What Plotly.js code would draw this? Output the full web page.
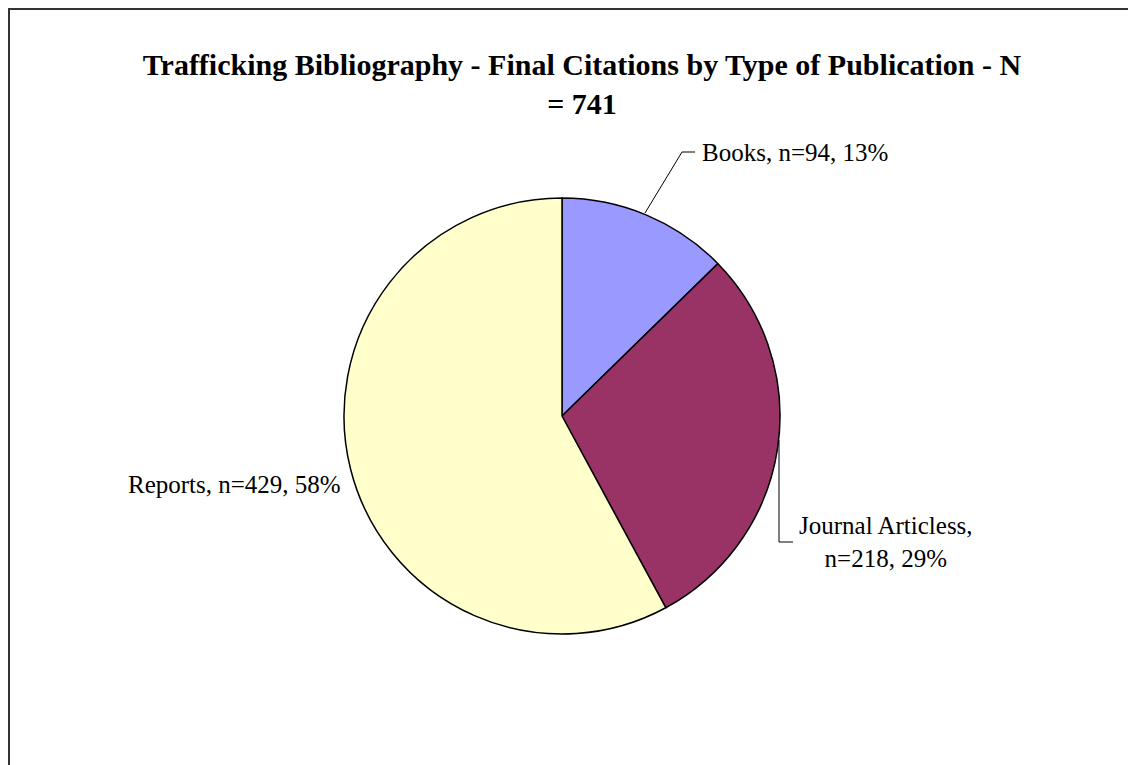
<!DOCTYPE html>
<html>
<head>
<meta charset="utf-8">
<script src="https://cdn.plot.ly/plotly-3.0.1.min.js"></script>
<style>
html,body{margin:0;padding:0;background:#fff;}
#chart{width:1128px;height:765px;}
</style>
</head>
<body>
<div id="chart"></div>
<script>
// Data
var categories = ["Books", "Journal Articless", "Reports"];
var counts = [94, 218, 429];
var percents = ["13%", "29%", "58%"];
var colors = ["#9999FF", "#993366", "#FFFFCC"];
var titleText = "Trafficking Bibliography - Final Citations by Type of Publication - N<br>= 741";

var W = 1128, H = 765;
function px(x){ return x / W; }
function py(y){ return 1 - y / H; }

var serif = "Liberation Serif, Times New Roman, serif";

var trace = {
  type: "pie",
  labels: categories,
  values: counts,
  sort: false,
  direction: "clockwise",
  rotation: 0,
  textinfo: "none",
  hoverinfo: "label+value+percent",
  marker: {colors: colors, line: {color: "#000000", width: 1.5}},
  domain: {x: [px(344), px(780)], y: [py(634), py(198)]},
  showlegend: false
};

function lbl(i){ return categories[i] + ", n=" + counts[i] + ", " + percents[i]; }

var annotations = [
  {text: lbl(0), x: px(700), y: py(153), xref: "paper", yref: "paper",
   xanchor: "left", yanchor: "middle", showarrow: false,
   font: {family: serif, size: 25, color: "#000"}},
  {text: categories[1] + ",<br>n=" + counts[1] + ", " + percents[1], x: px(886), y: py(542), xref: "paper", yref: "paper",
   xanchor: "center", yanchor: "middle", align: "center", showarrow: false,
   font: {family: serif, size: 25, color: "#000"}},
  {text: lbl(2), x: px(343), y: py(484), xref: "paper", yref: "paper",
   xanchor: "right", yanchor: "middle", showarrow: false,
   font: {family: serif, size: 25, color: "#000"}}
];

function path(pts){
  return pts.map(function(p, i){ return (i ? "L" : "M") + px(p[0]) + "," + py(p[1]); }).join(" ");
}

var shapes = [
  // frame (left and top edges)
  {type: "path", xref: "paper", yref: "paper", path: path([[9, 770], [9, 9], [1135, 9]]),
   line: {color: "#333333", width: 2}},
  // leader: Books
  {type: "path", xref: "paper", yref: "paper", path: path([[645, 213], [682, 152], [695, 152]]),
   line: {color: "#000000", width: 1}},
  // leader: Journal
  {type: "path", xref: "paper", yref: "paper", path: path([[779, 440], [779, 542], [793, 542]]),
   line: {color: "#000000", width: 1}}
];

var layout = {
  width: W, height: H,
  margin: {l: 0, r: 0, t: 0, b: 0},
  paper_bgcolor: "#ffffff",
  plot_bgcolor: "#ffffff",
  title: {
    text: "<b>" + titleText + "</b>",
    x: px(582), xanchor: "center", xref: "paper",
    y: py(75), yanchor: "middle", yref: "paper",
    font: {family: serif, size: 30, color: "#000"}
  },
  annotations: annotations,
  shapes: shapes
};

Plotly.newPlot("chart", [trace], layout, {displayModeBar: false, staticPlot: true});
</script>
</body>
</html>
